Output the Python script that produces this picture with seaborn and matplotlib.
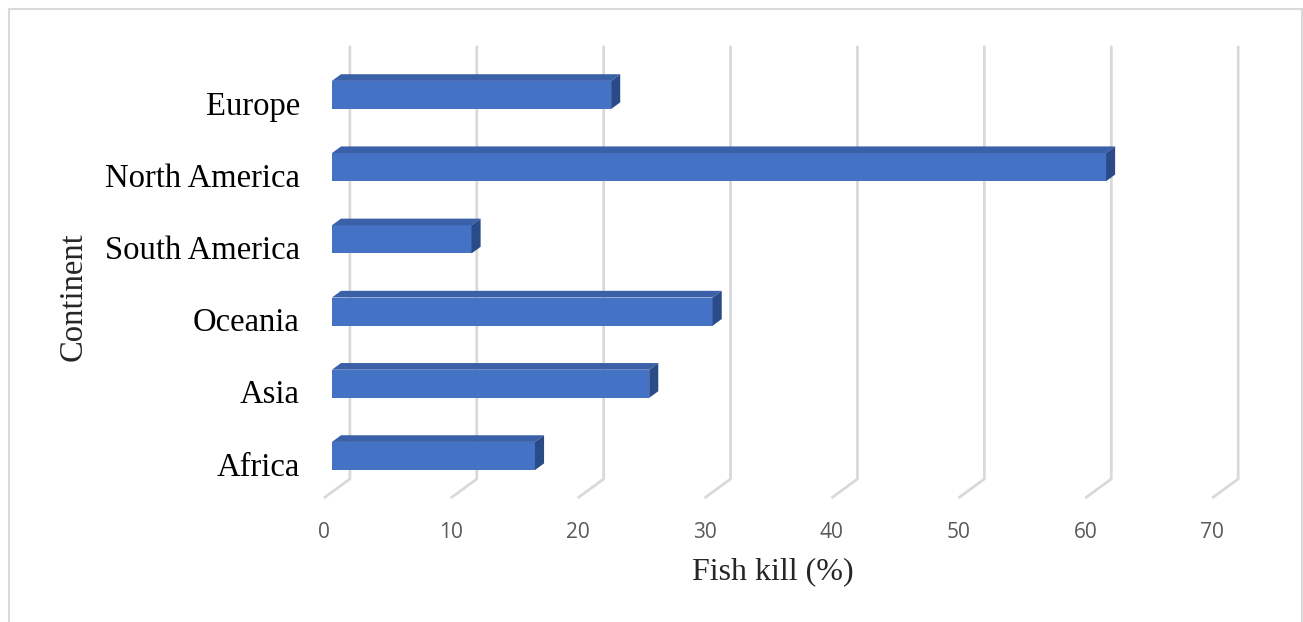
import numpy as np
import matplotlib
matplotlib.use("Agg")
import matplotlib.pyplot as plt
from matplotlib.patches import Polygon, Rectangle
import seaborn as sns

# data
continents = ["Europe", "North America", "South America", "Oceania", "Asia", "Africa"]
fish_kill = [22, 61, 11, 30, 25, 16]
x_ticks = [0, 10, 20, 30, 40, 50, 60, 70]

FRONT_C = "#4472C4"
TOP_C = "#3A61A8"
SIDE_C = "#2B4B88"
GRID_C = "#D9D9D9"

sns.set_style("white")
plt.rcParams["font.family"] = ["Liberation Serif", "DejaVu Serif"]

fig = plt.figure(figsize=(13.03, 6.22), dpi=100)
ax = fig.add_axes([0.2450, 0.174, 0.7207, 0.7662])

sns.barplot(x=fish_kill, y=continents, order=continents, orient="h",
            width=0.39, color=FRONT_C, saturation=1, ax=ax, zorder=3)

ax.set_xlim(-1, 73)
ax.set_ylim(5.8, -0.8)

# fake 3d depth: full depth of the wall, in data units
DX, DY = 2.05, -0.264
T_FRONT, T_BACK, T_BAR = -0.31, 0.69, 0.35
LABEL_DROP = 0.11  # excel puts category labels a bit below bar centres


def shift(x, y, t):
    return (x + t * DX, y + t * DY)


# gridlines on the floor and back wall
for v in x_ticks:
    pts = [shift(v, 5.5, T_FRONT), shift(v, 5.5, T_BACK), shift(v, -0.5, T_BACK)]
    xs, ys = zip(*pts)
    ax.plot(xs, ys, color=GRID_C, lw=2, zorder=1, solid_capstyle="butt")

# top and side faces of each bar
for p in ax.patches:
    x0, w = p.get_x(), p.get_width()
    y0, h = p.get_y(), p.get_height()
    p.set_edgecolor("none")
    top = [(x0, y0), (x0 + w, y0), shift(x0 + w, y0, T_BAR), shift(x0, y0, T_BAR)]
    side = [(x0 + w, y0), (x0 + w, y0 + h), shift(x0 + w, y0 + h, T_BAR), shift(x0 + w, y0, T_BAR)]
    ax.add_patch(Polygon(top, closed=True, fc=TOP_C, ec="none", zorder=3))
    ax.add_patch(Polygon(side, closed=True, fc=SIDE_C, ec="none", zorder=3))

ax.set_xticks(np.array(x_ticks) + T_FRONT * DX)
ax.set_xticklabels([str(t) for t in x_ticks], family="Open Sans", fontsize=15, color="#595959")
ax.set_yticks(np.arange(len(continents)) + LABEL_DROP)
ax.set_yticklabels(continents, fontsize=23.5, color="black")
ax.tick_params(axis="x", length=0, pad=6)
ax.tick_params(axis="y", length=0, pad=14)
ax.set_xlabel("")
ax.set_ylabel("")
sns.despine(ax=ax, left=True, bottom=True)

fig.text(773 / 1303, 1 - 572 / 622, "Fish kill (%)", fontsize=23, ha="center", va="center")
fig.text(73 / 1303, 1 - 297 / 622, "Continent", fontsize=23.5, rotation=90, ha="center", va="center")

fig.patches.append(Rectangle((9 / 1303, -0.02), 1293 / 1303, 1 - 9 / 622 + 0.02,
                             transform=fig.transFigure, fill=False, ec=GRID_C, lw=1.5))

fig.savefig("out.png", dpi=100)
